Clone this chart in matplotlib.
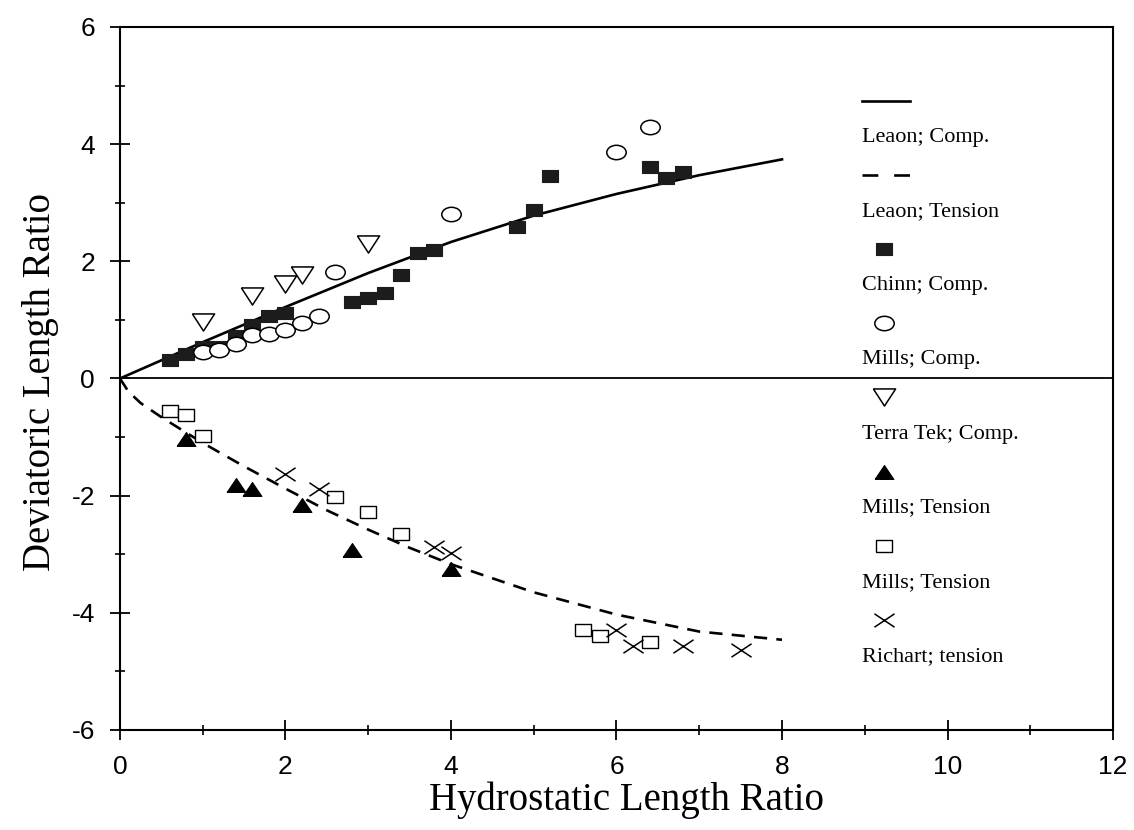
import matplotlib
matplotlib.use('Agg')
import matplotlib.pyplot as plt
import numpy as np
from matplotlib.path import Path
from matplotlib.transforms import Affine2D

plt.rcParams['axes.unicode_minus'] = False

# fitted curves (Leaon)
leon_comp_x = [0, 1, 2, 3, 4, 5, 6, 7, 8]
leon_comp_y = [0, 0.62, 1.22, 1.80, 2.33, 2.78, 3.15, 3.47, 3.74]
leon_ten_x = [0, 0.1, 0.25, 0.5, 1.0, 1.5, 2.0, 2.5, 3.0, 3.5, 4.0, 5.0, 6.0, 7.0, 8.0]
leon_ten_y = [0, -0.22, -0.42, -0.66, -1.10, -1.50, -1.88, -2.25, -2.58, -2.89, -3.17,
              -3.65, -4.03, -4.32, -4.46]

# measured points
chinn_x = [0.6, 0.8, 1.0, 1.2, 1.4, 1.6, 1.8, 2.0, 2.8, 3.0, 3.2, 3.4, 3.6, 3.8,
           4.8, 5.0, 5.2, 6.4, 6.6, 6.8]
chinn_y = [0.31, 0.41, 0.54, 0.53, 0.72, 0.92, 1.07, 1.12, 1.31, 1.38, 1.46, 1.77,
           2.15, 2.20, 2.59, 2.87, 3.46, 3.61, 3.43, 3.53]
mills_comp_x = [1.0, 1.2, 1.4, 1.6, 1.8, 2.0, 2.2, 2.4, 2.6, 4.0, 6.0, 6.4]
mills_comp_y = [0.46, 0.48, 0.59, 0.74, 0.76, 0.82, 0.95, 1.07, 1.81, 2.80, 3.86, 4.30]
terra_x = [1.0, 1.6, 2.0, 2.2, 3.0]
terra_y = [0.97, 1.41, 1.62, 1.77, 2.30]
mills_ten1_x = [0.8, 1.4, 1.6, 2.2, 2.8, 4.0]
mills_ten1_y = [-1.04, -1.81, -1.89, -2.16, -2.93, -3.26]
mills_ten2_x = [0.6, 0.8, 1.0, 2.6, 3.0, 3.4, 5.6, 5.8, 6.4]
mills_ten2_y = [-0.56, -0.63, -0.98, -2.02, -2.28, -2.65, -4.30, -4.40, -4.49]
richart_x = [2.0, 2.4, 3.8, 4.0, 6.0, 6.2, 6.8, 7.5]
richart_y = [-1.63, -1.88, -2.88, -2.98, -4.30, -4.56, -4.56, -4.63]

labels = ['Leaon; Comp.', 'Leaon; Tension', 'Chinn; Comp.', 'Mills; Comp.',
          'Terra Tek; Comp.', 'Mills; Tension', 'Mills; Tension', 'Richart; tension']

# slightly wide markers, like the scanned original
sq = [(-1.25, -1), (1.25, -1), (1.25, 1), (-1.25, 1), (-1.25, -1)]
ell = Affine2D().scale(1.35, 1).transform_path(Path.unit_circle())
tri_dn = [(-1.3, 1), (1.3, 1), (0, -1), (-1.3, 1)]
tri_up = [(-1.35, -1), (1.35, -1), (0, 1), (-1.35, -1)]
cross = Path([(-1.5, -1), (1.5, 1), (-1.5, 1), (1.5, -1)],
             [Path.MOVETO, Path.LINETO, Path.MOVETO, Path.LINETO])

fig = plt.figure(figsize=(11.34, 8.30), dpi=100)
ax = fig.add_axes([0.1058, 0.1205, 0.8757, 0.8470])

ax.axhline(0, color='black', lw=1.3, zorder=1)

line_kw = dict(color='black', lw=1.9)
ax.plot(leon_comp_x, leon_comp_y, '-', **line_kw)
ax.plot(leon_ten_x, leon_ten_y, linestyle=(0, (5, 3.5)), **line_kw)

series = [
    (chinn_x, chinn_y, dict(marker=sq, markersize=11.5, mfc='#1c1c1c', mec='#1c1c1c', mew=0.8)),
    (mills_comp_x, mills_comp_y, dict(marker=ell, markersize=14, mfc='white', mec='black', mew=1.1)),
    (terra_x, terra_y, dict(marker=tri_dn, markersize=16, mfc='white', mec='black', mew=1.1)),
    (mills_ten1_x, mills_ten1_y, dict(marker=tri_up, markersize=13.5, mfc='black', mec='black', mew=0.8)),
    (mills_ten2_x, mills_ten2_y, dict(marker=sq, markersize=11.5, mfc='white', mec='black', mew=1.0)),
    (richart_x, richart_y, dict(marker=cross, markersize=14.5, mfc='none', mec='black', mew=1.1)),
]
for xs, ys, kw in series:
    ax.plot(xs, ys, linestyle='none', **kw)

ax.set_xlim(0, 12)
ax.set_ylim(-6, 6)
ax.set_xticks(np.arange(0, 13, 2))
ax.set_xticks(np.arange(1, 12, 2), minor=True)
ax.set_yticks(np.arange(-6, 7, 2))
ax.set_yticks(np.arange(-5, 6, 2), minor=True)
ax.tick_params(which='major', direction='inout', length=14, width=1.3,
               labelsize=19, labelfontfamily='Liberation Sans')
ax.tick_params(which='minor', direction='inout', length=7, width=1.2)
ax.tick_params(axis='x', pad=11)
ax.tick_params(axis='y', pad=11)
for s in ax.spines.values():
    s.set_linewidth(1.5)

ax.set_xlabel('Hydrostatic Length Ratio', family='Liberation Serif', fontsize=28, va='center')
ax.xaxis.set_label_coords(0.51, -0.1)
ax.set_ylabel('Deviatoric Length Ratio', family='Liberation Serif', fontsize=28, va='center')
ax.yaxis.set_label_coords(-0.08, 0.495)

# legend: symbol on one row, its text on the row below
tr = ax.transAxes
lx, mx = 0.7472, 0.7694
top, step, gap = 0.895, 0.1055, 0.052
ax.plot([lx, 0.7956], [top, top], transform=tr, clip_on=False, **line_kw)
ax.plot([lx, 0.7956], [top - step] * 2, transform=tr, clip_on=False,
        linestyle=(0, (6, 6)), **line_kw)
for i, (_, _, kw) in enumerate(series):
    y = top - (i + 2) * step
    ax.plot([mx], [y], transform=tr, clip_on=False, linestyle='none', **kw)
for i, lab in enumerate(labels):
    ax.text(lx, top - i * step - gap, lab, transform=tr, family='Liberation Serif',
            fontsize=16, ha='left', va='center')

fig.savefig('out.png', dpi=100)
